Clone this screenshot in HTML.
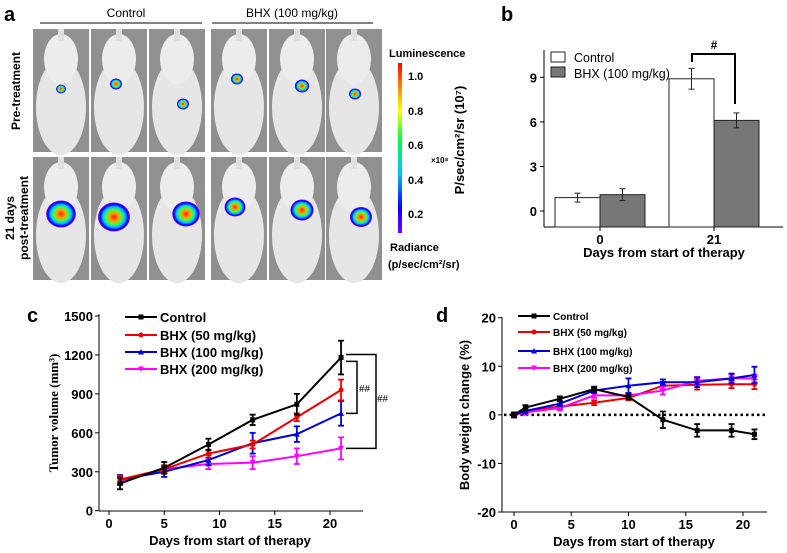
<!DOCTYPE html>
<html><head><meta charset="utf-8">
<style>
html,body{margin:0;padding:0;background:#fff;}
svg{display:block;font-family:"Liberation Sans",Arial,sans-serif;}
</style></head>
<body>
<svg id="fig" width="787" height="553" viewBox="0 0 787 553">
<defs>
<linearGradient id="cbar" x1="0" y1="1" x2="0" y2="0">
<stop offset="0" stop-color="#8000ff"/><stop offset="0.15" stop-color="#0000ff"/><stop offset="0.35" stop-color="#00c0ff"/><stop offset="0.55" stop-color="#00ff40"/><stop offset="0.72" stop-color="#ffff00"/><stop offset="0.85" stop-color="#ff9000"/><stop offset="1" stop-color="#ff0000"/>
</linearGradient>
<radialGradient id="blob">
<stop offset="0" stop-color="#ff2000"/><stop offset="0.3" stop-color="#ffa000"/><stop offset="0.5" stop-color="#40ff40"/><stop offset="0.7" stop-color="#00c0ff"/><stop offset="0.88" stop-color="#0000ff"/><stop offset="1" stop-color="#9000ff"/>
</radialGradient>
</defs>
<g id="panelA"></g>
<g id="panelB"></g>
<g id="panelC"></g>
<g id="panelD"></g>
</svg>
<script>
// Panel b data
const bCategories = ["0","21"];
const bControl = [0.9, 8.9];
const bControlErr = [0.3, 0.7];
const bBHX = [1.1, 6.1];
const bBHXErr = [0.4, 0.5];
const bTicks = [0,3,6,9];
// Panel c data
const cDays = [1,5,9,13,17,21];
const cControl = [210,330,510,700,820,1180];
const cControlErr = [45,45,45,40,80,130];
const cBHX50 = [240,320,440,510,720,930];
const cBHX50Err = [30,30,30,30,30,80];
const cBHX100 = [240,300,390,520,590,750];
const cBHX100Err = [35,40,40,80,60,95];
const cBHX200 = [230,320,360,370,420,480];
const cBHX200Err = [30,30,40,50,60,85];
const cYTicks = [0,300,600,900,1200,1500];
const cXTicks = [0,5,10,15,20];
// Panel d data
const dDays = [0,1,4,7,10,13,16,19,21];
const dControl = [0,1.5,3.3,5.3,3.7,-1,-3.2,-3.2,-4];
const dControlErr = [0.5,0.5,0.5,0.5,0.5,1.7,1.3,1.3,1];
const dBHX50 = [0,0.8,1.7,2.5,3.5,6,6.2,6.3,6.3];
const dBHX50Err = [0.5,0.5,0.5,0.5,0.5,0.8,1,0.8,1];
const dBHX100 = [0,0.8,2.3,5,6,6.7,6.7,7.5,8.2];
const dBHX100Err = [0.5,0.5,0.5,0.5,1.5,0.6,1,1,1.7];
const dBHX200 = [0,0.5,1.4,4,4,5,7,7.5,7.5];
const dBHX200Err = [0.5,0.5,0.5,0.5,0.5,0.8,0.8,0.8,0.8];
const dYTicks = [-20,-10,0,10,20];
const dXTicks = [0,5,10,15,20];
const seriesNames = ["Control","BHX (50 mg/kg)","BHX (100 mg/kg)","BHX (200 mg/kg)"];

const NS="http://www.w3.org/2000/svg";
function el(parent,tag,attrs,text){const e=document.createElementNS(NS,tag);for(const k in attrs)e.setAttribute(k,attrs[k]);if(text!==undefined)e.textContent=text;parent.appendChild(e);return e;}

// ---------- Panel A ----------
const A=document.getElementById('panelA');
let t;
t=el(A,'text',{x:4,y:21,'font-size':20,'font-weight':'bold'},'a');

t=el(A,'text',{x:126,y:17,'font-size':12,'text-anchor':'middle'},'Control');

t=el(A,'text',{x:292,y:17,'font-size':12,'text-anchor':'middle'},'BHX (100 mg/kg)');

el(A,'line',{x1:40,y1:23,x2:202,y2:23,stroke:'#000','stroke-width':1});
el(A,'line',{x1:212,y1:23,x2:373,y2:23,stroke:'#000','stroke-width':1});
const colX=[33,91,149,211,269,326];
const rowY=[29,157];
const blobs=[[[50,80,9],[47,75,11],[56,95,11],[48,70,11],[55,77,13],[51,85,11]],
 [[50,77,27],[45,80,29],[59,77,25],[46,70,19],[55,73,21],[57,80,20]]];
for(let r=0;r<2;r++)for(let c=0;c<6;c++){
 const g=el(A,'g',{});
 
 const x=colX[c],y=rowY[r];
 el(g,'rect',{x:x,y:y,width:56,height:123,fill:'#909090'});
 el(g,'ellipse',{cx:x+28,cy:y+78,rx:25,ry:48,fill:'#e6e6e6'});
 el(g,'ellipse',{cx:x+28,cy:y+30,rx:17,ry:25,fill:'#ececec'});
 el(g,'rect',{x:x+25,y:y,width:6,height:12,fill:'#e0e0e0'});
 const b=blobs[r][c];
 el(g,'ellipse',{cx:x+b[0]-22,cy:y+b[1]-20,rx:b[2]*0.55,ry:b[2]*0.5,fill:'url(#blob)'});
}
t=el(A,'text',{transform:'translate(20,91) rotate(-90)','font-size':12,'font-weight':'bold','text-anchor':'middle'},'Pre-treatment');

t=el(A,'text',{transform:'translate(14,218) rotate(-90)','font-size':12,'font-weight':'bold','text-anchor':'middle'},'21 days');

el(A,'text',{transform:'translate(28,218) rotate(-90)','font-size':12,'font-weight':'bold','text-anchor':'middle'},'post-treatment');
const cb=el(A,'rect',{x:398,y:63,width:4,height:170,fill:'url(#cbar)'});

el(A,'text',{x:389,y:57,'font-size':11,'font-weight':'bold'},'Luminescence');
[['1.0',76],['0.8',111],['0.6',145],['0.4',180],['0.2',214]].forEach(v=>{
 const tt=el(A,'text',{x:408,y:v[1]+4,'font-size':11,'font-weight':'bold'},v[0]);
 
});
el(A,'text',{x:431,y:163,'font-size':8,'font-weight':'bold'},'×10⁸');
el(A,'text',{x:390,y:251,'font-size':11,'font-weight':'bold'},'Radiance');
el(A,'text',{x:388,y:268,'font-size':11,'font-weight':'bold'},'(p/sec/cm²/sr)');

// ---------- Panel B ----------
const B=document.getElementById('panelB');
const bY=v=>211-(211-77.3)*v/9;
const bGroupX=[600,714];
t=el(B,'text',{x:501,y:21,'font-size':20,'font-weight':'bold'},'b');

el(B,'line',{x1:544,y1:50,x2:544,y2:227,stroke:'#000'});
el(B,'line',{x1:544,y1:227,x2:783,y2:227,stroke:'#000'});
bTicks.forEach(v=>{
 el(B,'line',{x1:540,y1:bY(v),x2:544,y2:bY(v),stroke:'#000'});
 const tt=el(B,'text',{x:537,y:bY(v)+5,'font-size':13,'font-weight':'bold','text-anchor':'end'},String(v));
 
});
bCategories.forEach((c,i)=>{
 const gx=bGroupX[i];
 el(B,'line',{x1:gx,y1:227,x2:gx,y2:231,stroke:'#000'});
 const tt=el(B,'text',{x:gx,y:244,'font-size':13,'font-weight':'bold','text-anchor':'middle'},c);
 
 const r1=el(B,'rect',{x:gx-45,y:bY(bControl[i]),width:45,height:bY(0)-bY(bControl[i])+16,fill:'#fff',stroke:'#222'});
 
 const r2=el(B,'rect',{x:gx,y:bY(bBHX[i]),width:45,height:bY(0)-bY(bBHX[i])+16,fill:'#777',stroke:'#222'});
 
 [[gx-22.5,bControl[i],bControlErr[i]],[gx+22.5,bBHX[i],bBHXErr[i]]].forEach(e=>{
  el(B,'line',{x1:e[0],y1:bY(e[1]-e[2]),x2:e[0],y2:bY(e[1]+e[2]),stroke:'#222'});
  el(B,'line',{x1:e[0]-3,y1:bY(e[1]-e[2]),x2:e[0]+3,y2:bY(e[1]-e[2]),stroke:'#222'});
  el(B,'line',{x1:e[0]-3,y1:bY(e[1]+e[2]),x2:e[0]+3,y2:bY(e[1]+e[2]),stroke:'#222'});
 });
});
el(B,'path',{d:'M692,62 V54 H735 V104',fill:'none',stroke:'#000','stroke-width':2});
el(B,'text',{x:714,y:49,'font-size':12,'font-weight':'bold','text-anchor':'middle'},'#');
let lg=el(B,'rect',{x:551,y:52,width:14,height:10,fill:'#fff',stroke:'#222'});

el(B,'text',{x:574,y:62,'font-size':12.5},'Control');
lg=el(B,'rect',{x:551,y:67,width:14,height:10,fill:'#777',stroke:'#222'});

el(B,'text',{x:574,y:78,'font-size':12.5},'BHX (100 mg/kg)');
t=el(B,'text',{transform:'translate(464,140) rotate(-90)','font-size':13,'font-weight':'bold','text-anchor':'middle'},'P/sec/cm²/sr (10⁷)');

t=el(B,'text',{x:664,y:257,'font-size':13,'font-weight':'bold','text-anchor':'middle'},'Days from start of therapy');


// ---------- line chart helper ----------
const colors=['#000','#e00','#00d','#f0f'];
function marker(g,k,x,y,col){
 if(k===0)el(g,'rect',{x:x-2.5,y:y-2.5,width:5,height:5,fill:col});
 else if(k===1)el(g,'circle',{cx:x,cy:y,r:2.5,fill:col});
 else if(k===2)el(g,'path',{d:`M${x},${y-3}L${x+3},${y+2.5}L${x-3},${y+2.5}Z`,fill:col});
 else el(g,'path',{d:`M${x},${y+3}L${x+3},${y-2.5}L${x-3},${y-2.5}Z`,fill:col});
}
function drawSeries(P,xs,ys,es,k,X,Y,name){
 const g=el(P,'g',{});
 
 const col=colors[k];
 el(g,'polyline',{points:xs.map((d,i)=>X(d)+','+Y(ys[i])).join(' '),fill:'none',stroke:col,'stroke-width':2});
 xs.forEach((d,i)=>{
  const x=X(d),lo=Y(ys[i]-es[i]),hi=Y(ys[i]+es[i]);
  el(g,'line',{x1:x,y1:lo,x2:x,y2:hi,stroke:col,'stroke-width':1.8});
  el(g,'line',{x1:x-3,y1:lo,x2:x+3,y2:lo,stroke:col,'stroke-width':1.8});
  el(g,'line',{x1:x-3,y1:hi,x2:x+3,y2:hi,stroke:col,'stroke-width':1.8});
  marker(g,k,x,Y(ys[i]),col);
 });
}

// ---------- Panel C ----------
const C=document.getElementById('panelC');
const cX=d=>109+(330-109)*d/20;
const cY=v=>510.7-(510.7-316)*v/1500;
t=el(C,'text',{x:27,y:322,'font-size':20,'font-weight':'bold'},'c');

el(C,'line',{x1:99,y1:314,x2:99,y2:511,stroke:'#000'});
el(C,'line',{x1:99,y1:511,x2:363,y2:511,stroke:'#000'});
cYTicks.forEach(v=>{
 el(C,'line',{x1:95,y1:cY(v),x2:99,y2:cY(v),stroke:'#000'});
 const tt=el(C,'text',{x:93,y:cY(v)+5,'font-size':13,'font-weight':'bold','text-anchor':'end'},String(v));
 
});
cXTicks.forEach(v=>{
 el(C,'line',{x1:cX(v),y1:511,x2:cX(v),y2:515,stroke:'#000'});
 const tt=el(C,'text',{x:cX(v),y:528,'font-size':13,'font-weight':'bold','text-anchor':'middle'},String(v));
 
});
drawSeries(C,cDays,cBHX200,cBHX200Err,3,cX,cY,'series-bhx200');
drawSeries(C,cDays,cBHX100,cBHX100Err,2,cX,cY,'series-bhx100');
drawSeries(C,cDays,cBHX50,cBHX50Err,1,cX,cY,'series-bhx50');
drawSeries(C,cDays,cControl,cControlErr,0,cX,cY,'series-control');
el(C,'path',{d:`M346,${cY(1180)-3} H376 V${cY(480)} H346`,fill:'none',stroke:'#000','stroke-width':1.5});
el(C,'path',{d:`M346,${cY(1150)} H357 V${cY(750)} H346`,fill:'none',stroke:'#000','stroke-width':1.5});
el(C,'text',{x:359,y:392,'font-size':11,'font-family':'Liberation Serif'},'##');
el(C,'text',{x:377,y:402,'font-size':11,'font-family':'Liberation Serif'},'##');
[317,335,352,369].forEach((y,k)=>{
 const g=el(C,'g',{});
 
 el(g,'line',{x1:125,y1:y,x2:157,y2:y,stroke:colors[k],'stroke-width':2});
 marker(g,k,141,y,colors[k]);
 el(g,'text',{x:160,y:y+5,'font-size':13,'font-weight':'bold'},seriesNames[k]);
});
t=el(C,'text',{transform:'translate(58,413) rotate(-90)','font-size':13,'font-weight':'bold','font-family':'Liberation Serif','text-anchor':'middle'},'Tumor volume (mm³)');

t=el(C,'text',{x:230,y:545,'font-size':13,'font-weight':'bold','text-anchor':'middle'},'Days from start of therapy');


// ---------- Panel D ----------
const D=document.getElementById('panelD');
const dX=d=>514+(743-514)*d/20;
const dY=v=>512-(512-317.7)*(v+20)/40;
t=el(D,'text',{x:436,y:322,'font-size':20,'font-weight':'bold'},'d');

el(D,'line',{x1:502,y1:317,x2:502,y2:512,stroke:'#000'});
el(D,'line',{x1:502,y1:512,x2:767,y2:512,stroke:'#000'});
dYTicks.forEach(v=>{
 el(D,'line',{x1:498,y1:dY(v),x2:502,y2:dY(v),stroke:'#000'});
 const tt=el(D,'text',{x:496,y:dY(v)+5,'font-size':13,'font-weight':'bold','text-anchor':'end'},String(v));
 
});
dXTicks.forEach(v=>{
 el(D,'line',{x1:dX(v),y1:512,x2:dX(v),y2:516,stroke:'#000'});
 const tt=el(D,'text',{x:dX(v),y:529,'font-size':13,'font-weight':'bold','text-anchor':'middle'},String(v));
 
});
el(D,'line',{x1:504,y1:dY(0),x2:765,y2:dY(0),stroke:'#000','stroke-width':2.5,'stroke-dasharray':'2.5,3'});
drawSeries(D,dDays,dBHX50,dBHX50Err,1,dX,dY,'series-bhx50');
drawSeries(D,dDays,dBHX200,dBHX200Err,3,dX,dY,'series-bhx200');
drawSeries(D,dDays,dBHX100,dBHX100Err,2,dX,dY,'series-bhx100');
drawSeries(D,dDays,dControl,dControlErr,0,dX,dY,'series-control');
[316,332,351,368].forEach((y,k)=>{
 const g=el(D,'g',{});
 
 el(g,'line',{x1:518,y1:y,x2:550,y2:y,stroke:colors[k],'stroke-width':2});
 marker(g,k,534,y,colors[k]);
 el(g,'text',{x:553,y:y+4,'font-size':10,'font-weight':'bold'},seriesNames[k]);
});
t=el(D,'text',{transform:'translate(469,415) rotate(-90)','font-size':13,'font-weight':'bold','text-anchor':'middle'},'Body weight change (%)');

t=el(D,'text',{x:634,y:546,'font-size':13,'font-weight':'bold','text-anchor':'middle'},'Days from start of therapy');

</script>
</body></html>
